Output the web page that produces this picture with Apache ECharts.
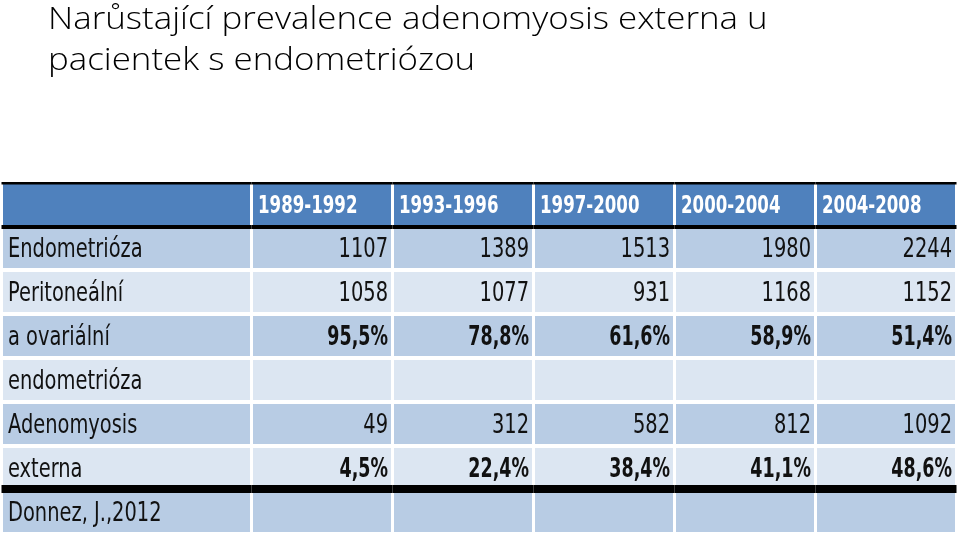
<!DOCTYPE html>
<html>
<head>
<meta charset="utf-8">
<script src="https://cdn.jsdelivr.net/npm/echarts@6/dist/echarts.min.js"></script>
<style>
html,body{margin:0;padding:0;background:#fff;}
#chart{width:960px;height:537px;}
</style>
</head>
<body>
<div id="chart"></div>
<script>
// ---- data ----
const titleLines = ['Narůstající prevalence adenomyosis externa u', 'pacientek s endometriózou'];
const periods = ['1989-1992', '1993-1996', '1997-2000', '2000-2004', '2004-2008'];
const rowLabels = ['Endometrióza', 'Peritoneální', 'a ovariální', 'endometrióza', 'Adenomyosis', 'externa', 'Donnez, J.,2012'];
const endometrioza = [1107, 1389, 1513, 1980, 2244];
const peritonealni = [1058, 1077, 931, 1168, 1152];
const ovarialniPct = [95.5, 78.8, 61.6, 58.9, 51.4];
const adenomyosis = [49, 312, 582, 812, 1092];
const externaPct = [4.5, 22.4, 38.4, 41.1, 48.6];

// ---- build ----
const fmtPct = v => v.toFixed(1).replace('.', ',') + '%';
const rowCats = ['header'].concat(rowLabels);
const FONT = "'DejaVu Sans Condensed', 'Liberation Sans Narrow', sans-serif";
const DARK = '#b8cce4', LIGHT = '#dce6f2', HEAD = '#4f81bd';

// data cells: [col, row, text, bold]
const bodyRows = [
  endometrioza.map(String),
  peritonealni.map(String),
  ovarialniPct.map(fmtPct),
  periods.map(() => ''),
  adenomyosis.map(String),
  externaPct.map(fmtPct),
  periods.map(() => '')
];
const boldRows = [false, false, true, false, false, true, false];
const dataCells = [];
periods.forEach((p, c) => dataCells.push([c, 0, p, 1]));
bodyRows.forEach((vals, r) => vals.forEach((t, c) => dataCells.push([c, r + 1, t, boldRows[r] ? 1 : 0])));
const labelCells = [[0, 0, '', 0]];
rowLabels.forEach((l, r) => labelCells.push([0, r + 1, l, 0]));

function makeRender(alignRight, src) {
  return function (params, api) {
    const col = api.value(0), row = api.value(1);
    const c = api.coord([col, row]);
    const s = api.size([1, 1]);
    const w = s[0], h = s[1];
    const x0 = c[0] - w / 2, y0 = c[1] - h / 2;
    const text = src[params.dataIndex][2];
    const bold = api.value(3) === 1;
    const children = [];
    const isHead = row === 0;
    const fill = isHead ? HEAD : (row % 2 === 1 ? DARK : LIGHT);
    const insetY = isHead ? 0 : 2;
    children.push({
      type: 'rect',
      shape: { x: x0 + 1.5, y: y0 + insetY, width: w - 3, height: h - 2 * insetY },
      style: { fill: fill }
    });
    if (isHead) {
      children.push({ type: 'rect', z2: 10, shape: { x: x0, y: y0, width: w, height: 2.5 }, style: { fill: '#000' } });
      children.push({ type: 'rect', z2: 10, shape: { x: x0, y: y0 + h - 1, width: w, height: 4 }, style: { fill: '#000' } });
    }
    if (row === rowCats.length - 1) {
      children.push({ type: 'rect', z2: 10, shape: { x: x0, y: y0 - 5, width: w, height: 8 }, style: { fill: '#000' } });
    }
    if (text) {
      const right = alignRight && !isHead;
      const sx = isHead ? 0.77 : (bold ? 0.72 : 0.8);
      children.push({
        type: 'text', z2: 20,
        x: right ? x0 + w - 4.5 : x0 + 6.5,
        y: c[1] + (isHead ? 3 : 1.5),
        scaleX: sx,
        style: {
          text: text,
          x: 0, y: 0,
          align: right ? 'right' : 'left',
          verticalAlign: 'middle',
          fontFamily: FONT,
          fontSize: isHead ? 24 : 27,
          fontWeight: (bold || isHead) ? 'bold' : 'normal',
          fill: isHead ? '#ffffff' : '#111111'
        }
      });
    }
    return { type: 'group', children: children };
  };
}

const hiddenAxis = {
  axisLine: { show: false }, axisTick: { show: false },
  axisLabel: { show: false }, splitLine: { show: false }
};

const titleStyle = {
  fontFamily: "'Open Sans', 'Noto Sans', sans-serif",
  fontWeight: 300,
  fontSize: 32,
  fill: '#000000',
  verticalAlign: 'middle',
  align: 'left'
};

const chart = echarts.init(document.getElementById('chart'), null, { renderer: 'canvas' });
chart.setOption({
  animation: false,
  backgroundColor: '#ffffff',
  graphic: titleLines.map((t, i) => ({
    type: 'text',
    x: 48,
    y: 20 + i * 41,
    scaleX: 1.09,
    style: Object.assign({ text: t }, titleStyle)
  })),
  grid: [
    { left: 1.5, width: 250, top: 182, height: 352 },
    { left: 251.5, width: 705, top: 182, height: 352 }
  ],
  xAxis: [
    Object.assign({ type: 'category', gridIndex: 0, data: ['label'] }, hiddenAxis),
    Object.assign({ type: 'category', gridIndex: 1, data: periods }, hiddenAxis)
  ],
  yAxis: [
    Object.assign({ type: 'category', gridIndex: 0, data: rowCats, inverse: true }, hiddenAxis),
    Object.assign({ type: 'category', gridIndex: 1, data: rowCats, inverse: true }, hiddenAxis)
  ],
  series: [
    {
      type: 'custom', xAxisIndex: 0, yAxisIndex: 0,
      renderItem: makeRender(false, labelCells),
      data: labelCells,
      encode: { x: 0, y: 1 }
    },
    {
      type: 'custom', xAxisIndex: 1, yAxisIndex: 1,
      renderItem: makeRender(true, dataCells),
      data: dataCells,
      encode: { x: 0, y: 1 }
    }
  ]
});
</script>
</body>
</html>
